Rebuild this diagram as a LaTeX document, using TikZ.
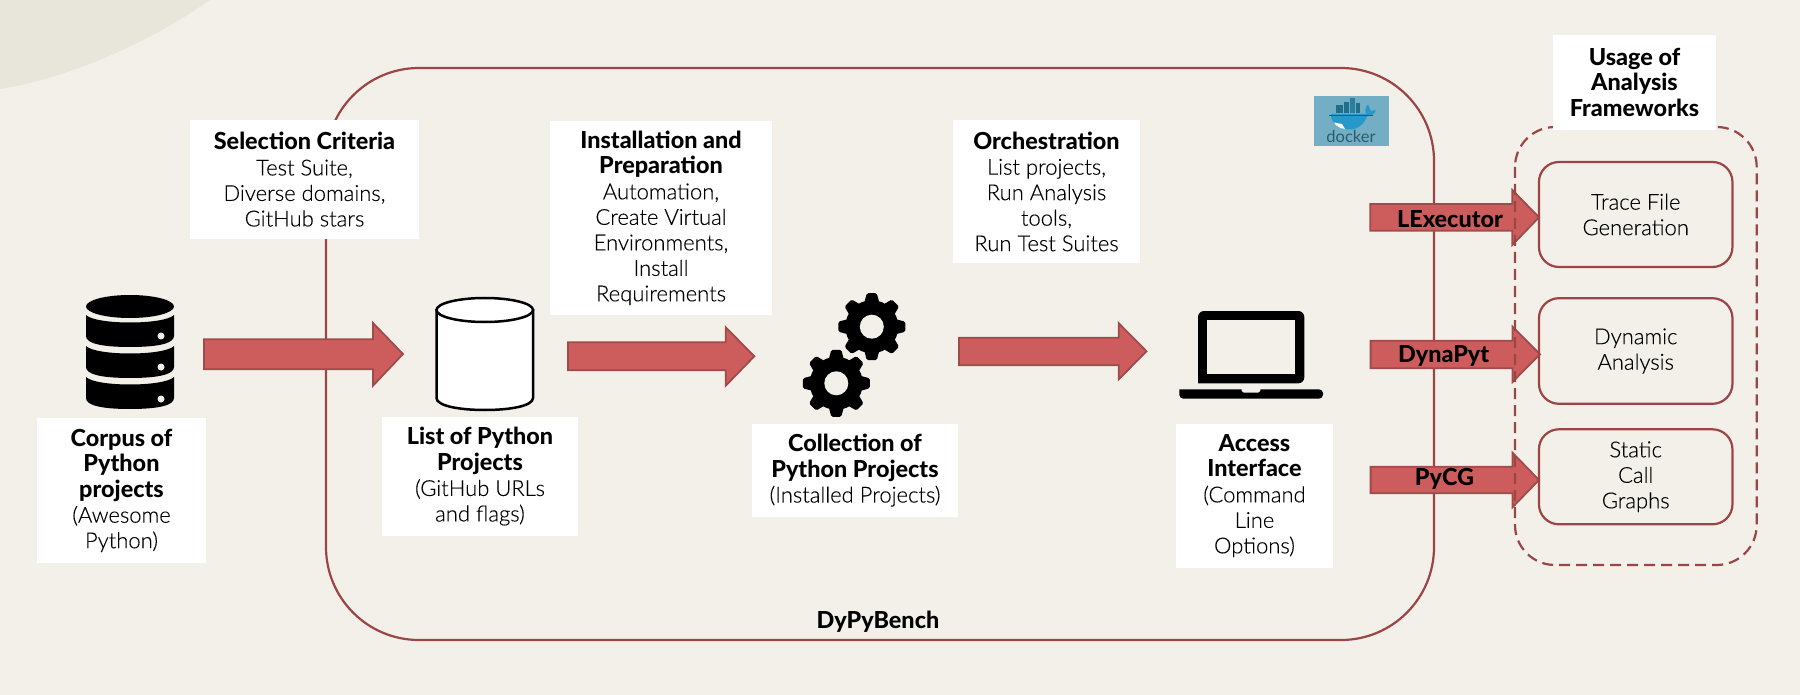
\documentclass[tikz,border=0pt]{standalone}
\usepackage{fontspec}
\setmainfont{Lato Light}[FakeBold=0.15,BoldFont={Lato Heavy},BoldFeatures={FakeBold=0}]
\newfontfamily\plainfont{Lato}
\definecolor{bgc}{HTML}{F3F0EA}
\definecolor{blobc}{HTML}{E8E6DA}
\definecolor{linec}{HTML}{9B4545}
\definecolor{arrowf}{HTML}{CD5C5C}
\definecolor{arrowd}{HTML}{A04B4B}
\definecolor{dockbg}{HTML}{74AEC4}
\definecolor{dockA}{HTML}{1F6F8B}
\definecolor{dockB}{HTML}{2A7F9E}
\definecolor{dockC}{HTML}{2799C8}
\definecolor{dockD}{HTML}{2B5B6E}
\tikzset{
  whitebox/.style={fill=white,inner sep=0pt,align=center,font=\fontsize{22}{25.5}\selectfont},
  frameline/.style={draw=linec,line width=2.2pt},
  flowarrow/.style={fill=arrowf,draw=arrowd,line width=1.8pt,line join=miter},
  toolbox/.style={draw=linec,line width=2.2pt,rounded corners=20pt,inner sep=0pt,align=center,
     minimum width=193.5pt,font=\fontsize{22}{25.5}\selectfont},
  arrowlabel/.style={font=\fontsize{23.4}{24}\selectfont\bfseries,inner sep=0pt},
}
\newcommand{\headline}[1]{{\fontsize{23.4}{25.5}\selectfont\bfseries #1}}
% tail-x, shaft top, shaft bottom, head-x, head top, head bottom, tip-x, tip-y
\newcommand{\blockarrow}[8]{%
  \draw[flowarrow] (#1,#2) -- (#4,#2) -- (#4,#5) -- (#7,#8) -- (#4,#6) -- (#4,#3) -- (#1,#3) -- cycle;}
\newcommand{\geararea}[2]{%
  \fill (#1,#2) circle (26.5);
  \foreach \a in {0,45,...,315}{
    \fill[rounded corners=1.5pt,shift={(#1,#2)},rotate=\a] (-7.5,-24) -- (-5,-33.5) -- (5,-33.5) -- (7.5,-24) -- cycle;
  }
  \fill[bgc] (#1,#2) circle (12);
}
\begin{document}
\begin{tikzpicture}[x=1pt,y=-1pt]
\useasboundingbox (0,0) rectangle (1800,695);
\fill[bgc] (0,0) rectangle (1800,695);
\fill[blobc] (0,0) -- (210,0) .. controls (150,42) and (70,78) .. (0,89) -- cycle;

% main frame
\draw[frameline,rounded corners=93pt] (326,68) rectangle (1434,640);
\node[arrowlabel] (dypy) at (878,622) {DyPyBench};

% docker badge
\fill[dockbg] (1314,96) rectangle (1389,145.7);
\fill[dockA] (1336,105) rectangle (1343,113.5);
\fill[dockA] (1344,102) rectangle (1349,113.5);
\fill[dockB] (1349.5,98.5) rectangle (1355,113.5);
\fill[dockA] (1355.5,103) rectangle (1360,113.5);
\fill[dockC] (1331,116.5) .. controls (1333,126) and (1342,129.5) .. (1350,129.5)
   .. controls (1358,129.5) and (1365,123) .. (1367,116.5)
   .. controls (1372,116) and (1376,113) .. (1375.5,110) -- (1371,111) -- (1368,104.5)
   .. controls (1365,107) and (1365,111) .. (1366,114) -- (1331,114) -- cycle;
\fill[white] (1334,122.5) -- (1342,124) -- (1345,129) .. controls (1340,128.5) and (1336,126) .. (1334,122.5) -- cycle;
\draw[dockD,line width=1pt] (1329,115.5) -- (1373,115.5);
\node[inner sep=0pt,text=dockD,font=\plainfont\fontsize{16.5}{18}\selectfont] (dockertext) at (1351,136.5) {docker};

% database icon
\fill (130,306.5) ellipse [x radius=44,y radius=11.5];
\foreach \y in {312,343,374}{
  \fill (86,\y+3) .. controls (96,\y+13) and (164,\y+13) .. (174,\y+3)
     -- (174,\y+24) .. controls (174,\y+31) and (160,\y+35) .. (130,\y+35)
     .. controls (100,\y+35) and (86,\y+31) .. (86,\y+24) -- cycle;
}
\foreach \y in {336,367,399}{\fill[bgc] (161,\y) circle (3.5);}

% cylinder
\draw[fill=white,draw=black,line width=2.5pt] (436.5,310)
   -- (436.5,398) .. controls (436.5,406) and (460,410) .. (484.7,410) .. controls (510,410) and (533,406) .. (533,398) -- (533,310) -- cycle;
\draw[fill=white,draw=black,line width=2.5pt] (484.75,310) ellipse [x radius=48.25,y radius=12];

% gears
\geararea{871.8}{326.7}
\geararea{836.3}{383.3}

% laptop
\fill[rounded corners=6pt] (1198,383.3) -- (1198,311) -- (1304.3,311) -- (1304.3,383.3) [sharp corners] -- cycle;
\fill[bgc] (1207.3,320.3) rectangle (1295,373.7);
\fill[rounded corners=4pt] (1179.3,389.3) -- (1179.3,398.7) -- (1323,398.7) -- (1323,389.3) [sharp corners] -- cycle;
\fill[bgc] (1241.7,388.5) -- (1241.7,391) -- (1244,392.7) -- (1258,392.7) -- (1260.3,391) -- (1260.3,388.5) -- cycle;

% block arrows
\blockarrow{204}{339.3}{369.3}{373}{323}{385.7}{403}{354}
\blockarrow{568}{342.3}{370.3}{725.7}{327.3}{385.7}{754.3}{356.3}
\blockarrow{959}{337.7}{365.3}{1118.8}{323.3}{379.3}{1146.5}{351.3}
\blockarrow{1370.3}{204}{230.7}{1512.3}{190}{245}{1539}{217.3}
\blockarrow{1370.6}{340.7}{368.3}{1512.5}{326.7}{382}{1540}{354.3}
\blockarrow{1370.6}{466.7}{493.3}{1512.5}{452.7}{507.3}{1539}{480}

% dashed frame
\draw[frameline,dash pattern=on 11pt off 6pt,rounded corners=40pt] (1515,127) rectangle (1756.7,565);

% tool boxes
\node[toolbox,minimum height=105pt] (trace) at (1635.7,214.5) {Trace File\\Generation};
\node[toolbox,minimum height=105.6pt] (dynamic) at (1635.7,351) {Dynamic\\Analysis};
\node[toolbox,minimum height=95pt] (static) at (1635.7,476.8) {Static\\Call\\Graphs};

% arrow labels
\node[arrowlabel] (lexec) at (1450,219) {LExecutor};
\node[arrowlabel] (dynapyt) at (1443.7,355.5) {DynaPyt};
\node[arrowlabel] (pycg) at (1444.5,478.7) {PyCG};

% white text boxes
\node[whitebox,minimum width=229pt,minimum height=119pt] (select) at (304.5,179.5)
  {\headline{Selection Criteria}\\Test Suite,\\Diverse domains,\\GitHub stars};
\node[whitebox,minimum width=222pt,minimum height=194pt] (install) at (661,218)
  {\headline{Installation and}\\\headline{Preparation}\\Automation,\\Create Virtual\\Environments,\\Install\\Requirements};
\node[whitebox,minimum width=187pt,minimum height=143pt] (orch) at (1046.5,191.5)
  {\headline{Orchestration}\\List projects,\\Run Analysis\\tools,\\Run Test Suites};
\node[whitebox,minimum width=169pt,minimum height=145pt] (corpus) at (121.5,490.5)
  {\headline{Corpus of}\\\headline{Python}\\\headline{projects}\\(Awesome\\Python)};
\node[whitebox,minimum width=196pt,minimum height=119pt] (list) at (480,476.5)
  {\headline{List of Python}\\\headline{Projects}\\(GitHub URLs\\and flags)};
\node[whitebox,minimum width=206pt,minimum height=93pt] (collect) at (855,470.3)
  {\headline{Collection of}\\\headline{Python Projects}\\(Installed Projects)};
\node[whitebox,minimum width=157pt,minimum height=144pt] (access) at (1254.5,495.8)
  {\headline{Access}\\\headline{Interface}\\(Command\\Line\\Options)};
\node[whitebox,minimum width=163pt,minimum height=95pt] (usage) at (1634.5,82.3)
  {\headline{Usage of}\\\headline{Analysis}\\\headline{Frameworks}};
\end{tikzpicture}
\end{document}
